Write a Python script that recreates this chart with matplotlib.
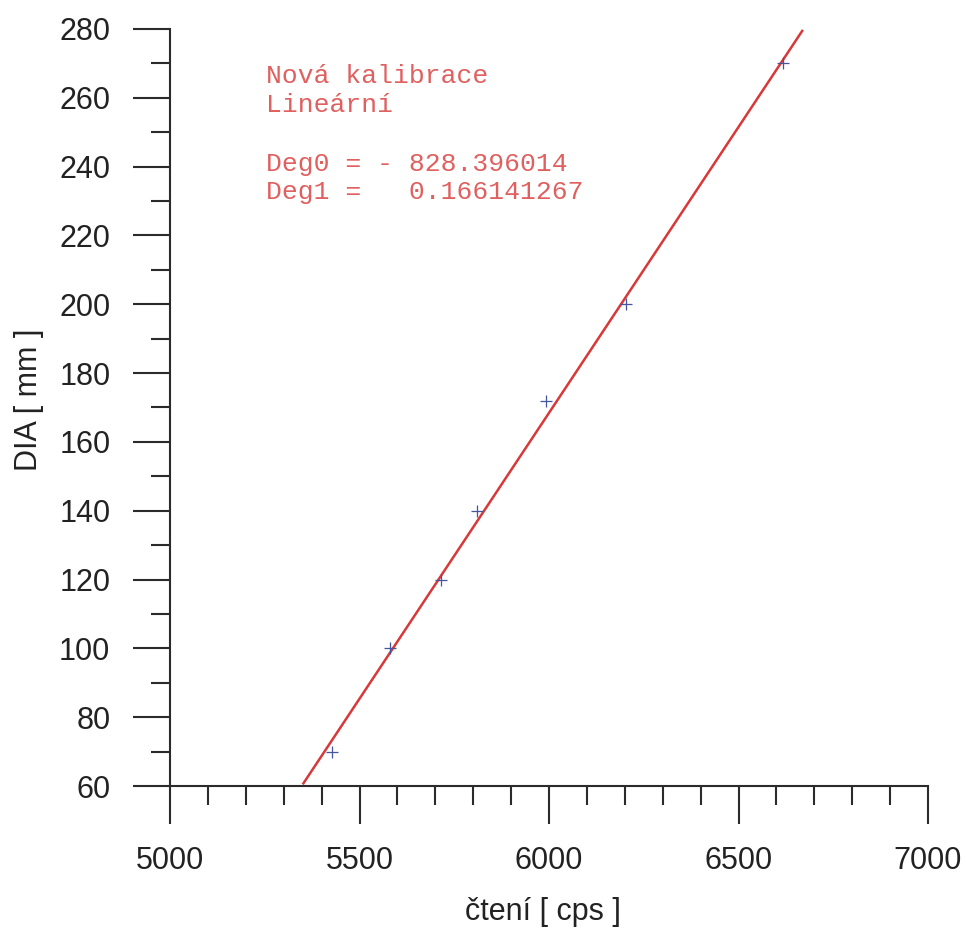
import numpy as np
import matplotlib.pyplot as plt
from matplotlib.ticker import MultipleLocator

# calibration points
reading = [5427, 5580, 5715, 5810, 5992, 6203, 6617]
dia = [70, 100, 120, 140, 172, 200, 270]

# linear fit coefficients
deg0 = -828.396014
deg1 = 0.166141267
fit_range = [5352, 6668]

plt.rcParams['font.family'] = ['Liberation Sans', 'DejaVu Sans']

fig = plt.figure(figsize=(9.66, 9.31), dpi=100)
ax = fig.add_axes([0.176, 0.1557, 0.7847, 0.8132])

xs = np.linspace(fit_range[0], fit_range[1], 200)
ax.plot(xs, deg0 + deg1 * xs, color='#d83838', lw=1.8, zorder=2)
ax.plot(reading, dia, ls='none', marker='+', ms=9, mew=0.9, color='#45559e', zorder=3)

ax.set_xlim(5000, 7000)
ax.set_ylim(60, 280)
ax.xaxis.set_major_locator(MultipleLocator(500))
ax.xaxis.set_minor_locator(MultipleLocator(100))
ax.yaxis.set_major_locator(MultipleLocator(20))
ax.yaxis.set_minor_locator(MultipleLocator(10))

for s in ['top', 'right']:
    ax.spines[s].set_visible(False)
for s in ['left', 'bottom']:
    ax.spines[s].set_linewidth(1.5)
    ax.spines[s].set_color('#2b2b2b')

ax.tick_params(which='major', direction='out', length=27, width=1.5, color='#2b2b2b',
               labelsize=22, labelcolor='#222222')
ax.tick_params(which='minor', direction='out', length=14, width=1.5, color='#2b2b2b')
ax.tick_params(axis='x', which='major', pad=16)
ax.tick_params(axis='y', which='major', pad=16)

ax.set_xlabel('čtení [ cps ]', fontsize=22, color='#222222')
ax.set_ylabel('DIA [ mm ]', fontsize=22, color='#222222')
ax.xaxis.set_label_coords(0.492, -0.166)
ax.xaxis.label.set_va('center')
ax.yaxis.set_label_coords(-0.186, 0.51)
ax.yaxis.label.set_va('center')

mono = dict(family='Liberation Mono', fontsize=19, color='#e06060',
            transform=ax.transAxes, va='center', ha='left')
ax.text(0.1266, 0.938, 'Nová kalibrace', **mono)
ax.text(0.1266, 0.900, 'Lineární', **mono)
ax.text(0.1266, 0.822, 'Deg0 = - 828.396014', **mono)
ax.text(0.1266, 0.784, 'Deg1 =   0.166141267', **mono)

fig.savefig('out.png', dpi=100)
